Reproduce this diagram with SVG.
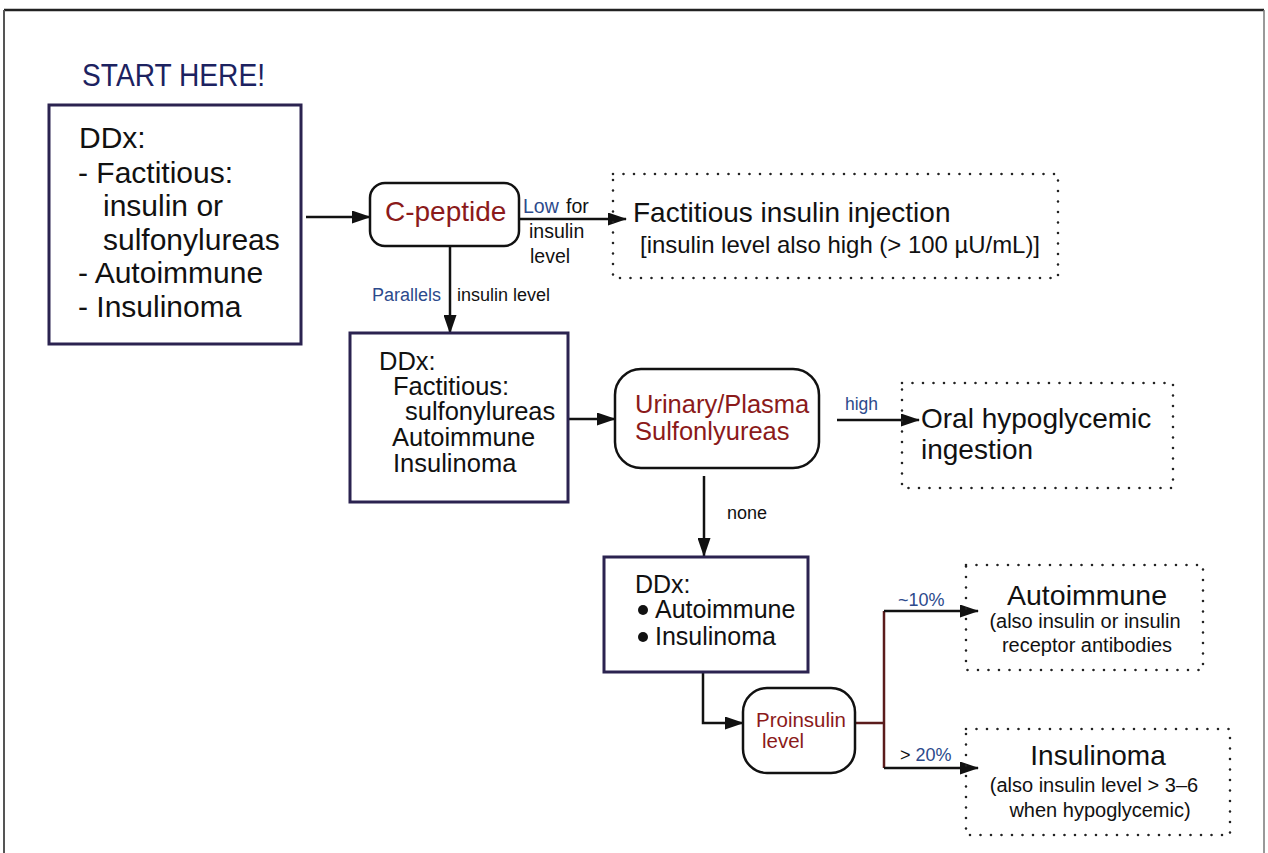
<svg xmlns="http://www.w3.org/2000/svg" width="1268" height="853" viewBox="0 0 1268 853">
<defs>
<style>
text{font-family:"Liberation Sans",Arial,sans-serif;fill:#111}
.box{fill:#fff;stroke:#2b2350;stroke-width:3}
.rbox{fill:#fff;stroke:#111;stroke-width:2.5}
.dot{fill:none;stroke:#222;stroke-width:2.6;stroke-dasharray:0 10.5;stroke-linecap:round}
.red{fill:#8b1a1a}
.blue{fill:#2c4a8c}
.conn{fill:none;stroke:#111;stroke-width:2.5}
.arr{marker-end:url(#ah)}
</style>
<marker id="ah" markerWidth="19" markerHeight="13" refX="18" refY="6.5" orient="auto" markerUnits="userSpaceOnUse">
<path d="M0,0 L19,6.5 L0,13 z" fill="#111"/>
</marker>
</defs>
<rect width="1268" height="853" fill="#fff"/>
<g id="frame">
<line x1="4" y1="10" x2="1264" y2="10" stroke="#222" stroke-width="2.5"/>
<line x1="4" y1="10" x2="4" y2="853" stroke="#555" stroke-width="2"/>
<line x1="1264" y1="10" x2="1264" y2="853" stroke="#777" stroke-width="1.5"/>
</g>
<g id="start-label">
<text x="82" y="86" font-size="31" style="fill:#1c2260" textLength="183" lengthAdjust="spacingAndGlyphs">START HERE!</text>
</g>
<g id="connectors">
<line class="conn arr" x1="306" y1="217" x2="370" y2="217"/>
<line class="conn arr" x1="519" y1="219" x2="626" y2="219"/>
<line class="conn arr" x1="450" y1="246" x2="450" y2="333"/>
<line class="conn arr" x1="568" y1="419" x2="615" y2="419"/>
<line class="conn arr" x1="837" y1="420" x2="919" y2="420"/>
<line class="conn arr" x1="704" y1="476" x2="704" y2="556"/>
<path class="conn arr" d="M703,672 V723 H743"/>
<path d="M855,723 H884 M884,611 V768" fill="none" stroke="#5b1c1c" stroke-width="2.5"/>
<line class="conn arr" x1="884" y1="611" x2="978" y2="611"/>
<line class="conn arr" x1="884" y1="768" x2="978" y2="768"/>
<text x="523" y="213" font-size="19.5" class="blue">Low</text>
<text x="566" y="213" font-size="19.5">for</text>
<text x="529" y="238" font-size="19.5">insulin</text>
<text x="530" y="263" font-size="19.5">level</text>
<text x="372" y="301" font-size="18" class="blue">Parallels</text>
<text x="457" y="301" font-size="18">insulin level</text>
<text x="845" y="410" font-size="17.5" class="blue">high</text>
<text x="727" y="519" font-size="18">none</text>
<text x="898" y="606" font-size="18" class="blue">~10%</text>
<text x="900" y="761" font-size="18"><tspan>&gt; </tspan><tspan class="blue">20%</tspan></text>
</g>
<g id="ddx1">
<rect class="box" x="49" y="105" width="252" height="239"/>
<text font-size="30">
<tspan x="79" y="148">DDx:</tspan>
<tspan x="78" y="183">- Factitious:</tspan>
<tspan x="103" y="216">insulin or</tspan>
<tspan x="103" y="250">sulfonylureas</tspan>
<tspan x="78" y="283">- Autoimmune</tspan>
<tspan x="78" y="317">- Insulinoma</tspan>
</text>
</g>
<g id="cpeptide">
<rect class="rbox" x="370" y="183" width="149" height="63" rx="15"/>
<text x="385" y="221" font-size="28" class="red">C-peptide</text>
</g>
<g id="factitious-injection">
<rect class="dot" x="613" y="174" width="445" height="104"/>
<text x="633" y="222" font-size="28">Factitious insulin injection</text>
<text x="640" y="253" font-size="24" textLength="400" lengthAdjust="spacingAndGlyphs">[insulin level also high (&gt; 100 µU/mL)]</text>
</g>
<g id="ddx2">
<rect class="box" x="350" y="333" width="218" height="169"/>
<text font-size="25.5">
<tspan x="379" y="370">DDx:</tspan>
<tspan x="393" y="395">Factitious:</tspan>
<tspan x="405" y="420">sulfonylureas</tspan>
<tspan x="392" y="446">Autoimmune</tspan>
<tspan x="393" y="472">Insulinoma</tspan>
</text>
</g>
<g id="sulfonylureas-test">
<rect class="rbox" x="615" y="369" width="204" height="99" rx="26"/>
<text font-size="25.5" class="red">
<tspan x="635" y="413">Urinary/Plasma</tspan>
<tspan x="635" y="440">Sulfonlyureas</tspan>
</text>
</g>
<g id="oral-ingestion">
<rect class="dot" x="902" y="383" width="271" height="105"/>
<text font-size="28">
<tspan x="921" y="428">Oral hypoglycemic</tspan>
<tspan x="921" y="459">ingestion</tspan>
</text>
</g>
<g id="ddx3">
<rect class="box" x="604" y="557" width="204" height="115"/>
<text x="635" y="593" font-size="25">DDx:</text>
<circle cx="643" cy="610" r="5" fill="#111"/>
<circle cx="643" cy="637" r="5" fill="#111"/>
<text x="655" y="618" font-size="25">Autoimmune</text>
<text x="655" y="645" font-size="25">Insulinoma</text>
</g>
<g id="proinsulin">
<rect class="rbox" x="743" y="688" width="112" height="85" rx="24"/>
<text font-size="20.5" class="red">
<tspan x="756" y="727">Proinsulin</tspan>
<tspan x="762" y="748">level</tspan>
</text>
</g>
<g id="autoimmune">
<rect class="dot" x="966" y="565" width="237" height="105"/>
<text x="1087" y="605" font-size="28.5" text-anchor="middle">Autoimmune</text>
<text x="1085" y="628" font-size="20" text-anchor="middle">(also insulin or insulin</text>
<text x="1087" y="652" font-size="20" text-anchor="middle">receptor antibodies</text>
</g>
<g id="insulinoma">
<rect class="dot" x="966" y="729" width="264" height="106"/>
<text x="1098" y="765" font-size="28" text-anchor="middle">Insulinoma</text>
<text x="1094" y="792" font-size="20" text-anchor="middle">(also insulin level &gt; 3–6</text>
<text x="1100" y="817" font-size="20" text-anchor="middle">when hypoglycemic)</text>
</g>
</svg>
